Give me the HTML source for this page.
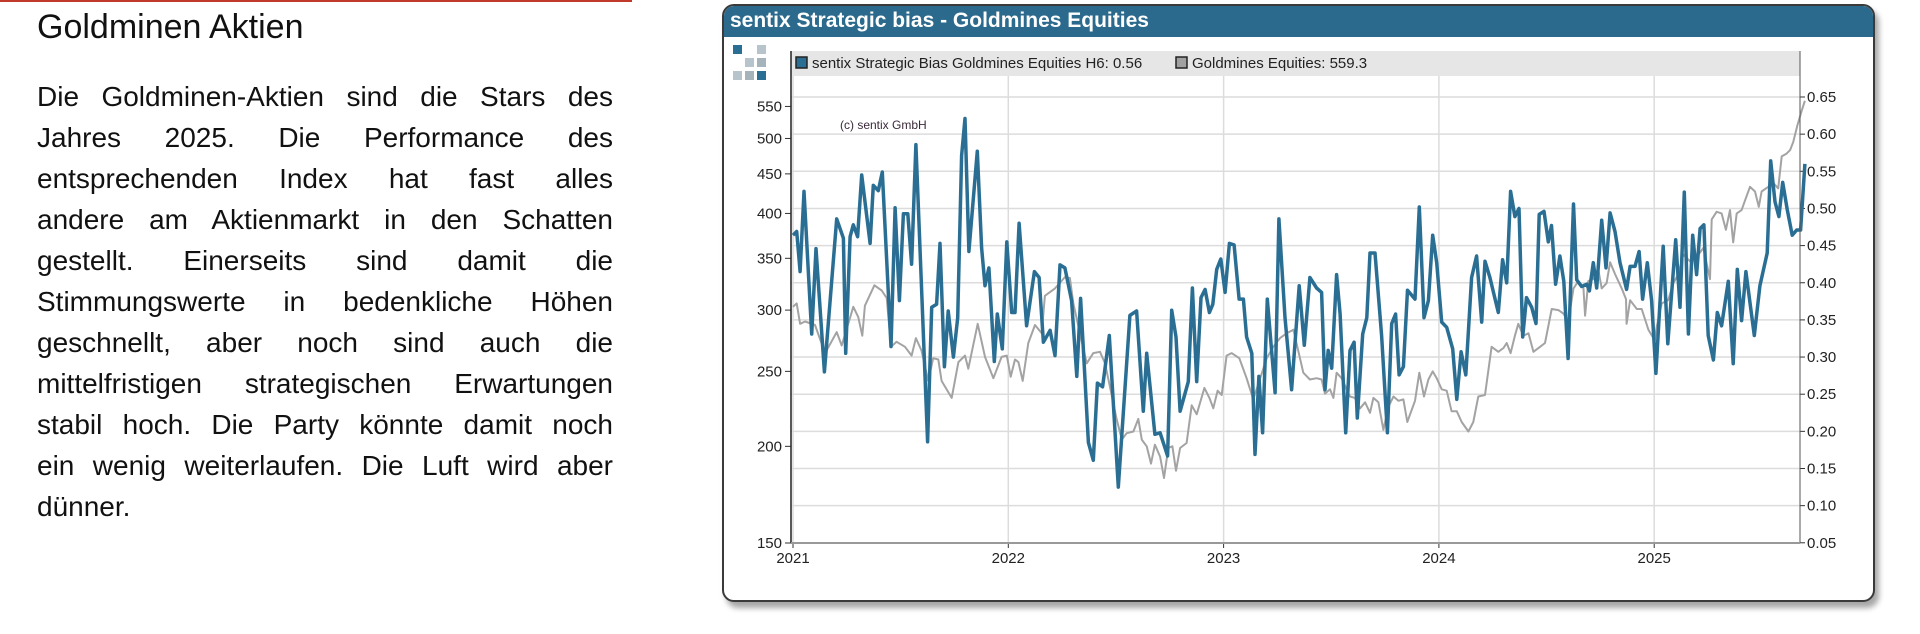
<!DOCTYPE html>
<html><head><meta charset="utf-8">
<style>
html,body{margin:0;padding:0;background:#fff;}
body{width:1920px;height:634px;position:relative;overflow:hidden;font-family:"Liberation Sans",Arial,sans-serif;}
#redline{position:absolute;left:0;top:0;width:632px;height:2px;background:#c0392b;}
#heading{position:absolute;left:37px;top:8px;font-size:34px;color:#111;font-family:"Liberation Sans",sans-serif;}
#para{position:absolute;left:37px;top:76px;width:576px;font-size:28px;line-height:41px;color:#111;}
#para div{text-align:justify;text-align-last:justify;white-space:nowrap;}
#para div.last{text-align-last:left;}
#chartbox{position:absolute;left:722px;top:4px;width:1149px;height:594px;border:2px solid #3a3a3a;border-radius:12px;box-shadow:4px 6px 6px rgba(0,0,0,0.35);background:#fff;overflow:hidden;}
#titlebar{position:absolute;left:0;top:0;width:100%;height:31px;background:#2b6a8c;}
#titletext{position:absolute;left:6px;top:3px;font-size:21px;font-weight:bold;color:#fff;}
svg{position:absolute;left:0;top:0;}
</style></head>
<body>
<div id="redline"></div>
<div id="heading">Goldminen Aktien</div>
<div id="para">
<div>Die Goldminen-Aktien sind die Stars des</div>
<div>Jahres 2025. Die Performance des</div>
<div>entsprechenden Index hat fast alles</div>
<div>andere am Aktienmarkt in den Schatten</div>
<div>gestellt. Einerseits sind damit die</div>
<div>Stimmungswerte in bedenkliche Höhen</div>
<div>geschnellt, aber noch sind auch die</div>
<div>mittelfristigen strategischen Erwartungen</div>
<div>stabil hoch. Die Party könnte damit noch</div>
<div>ein wenig weiterlaufen. Die Luft wird aber</div>
<div class="last">dünner.</div>
</div>
<div id="chartbox">
<div id="titlebar"><div id="titletext">sentix Strategic bias - Goldmines Equities</div></div>
</div>
<svg id="chart" width="1920" height="634"></svg>
<script>
const yearLabels=["2021","2022","2023","2024","2025"];
const leftTicks=[150,200,250,300,350,400,450,500,550];
const rightTicks=[0.05,0.10,0.15,0.20,0.25,0.30,0.35,0.40,0.45,0.50,0.55,0.60,0.65];
const biasDates=[0,.017,.033,.051,.087,.107,.146,.203,.234,.245,.265,.280,.300,.319,.358,.373,.396,.415,.455,.474,.494,.513,.533,.551,.571,.625,.644,.667,.683,.703,.721,.745,.765,.783,.799,.817,.856,.876,.892,.910,.935,.949,.972,.993,1.016,1.031,1.050,1.085,1.121,1.143,1.163,1.194,1.217,1.240,1.263,1.294,1.318,1.336,1.372,1.395,1.414,1.438,1.469,1.511,1.565,1.596,1.627,1.643,1.681,1.705,1.740,1.759,1.779,1.798,1.836,1.855,1.875,1.895,1.914,1.934,1.950,1.968,1.987,2.007,2.027,2.049,2.072,2.092,2.107,2.131,2.146,2.164,2.181,2.203,2.239,2.257,2.285,2.316,2.351,2.375,2.401,2.432,2.455,2.471,2.486,2.502,2.525,2.541,2.567,2.587,2.606,2.621,2.646,2.665,2.680,2.703,2.734,2.761,2.781,2.799,2.815,2.835,2.854,2.889,2.909,2.931,2.951,2.971,2.990,3.013,3.036,3.064,3.083,3.103,3.125,3.152,3.175,3.199,3.214,3.237,3.276,3.296,3.315,3.333,3.353,3.372,3.389,3.407,3.431,3.451,3.466,3.488,3.508,3.523,3.542,3.562,3.580,3.600,3.625,3.640,3.663,3.687,3.699,3.717,3.733,3.756,3.776,3.795,3.818,3.841,3.872,3.888,3.911,3.930,3.946,3.968,3.988,4.008,4.042,4.063,4.100,4.120,4.140,4.159,4.179,4.197,4.213,4.231,4.251,4.275,4.293,4.313,4.344,4.367,4.386,4.406,4.426,4.465,4.491,4.525,4.541,4.561,4.579,4.597,4.618,4.641,4.662,4.680,4.700];
const biasValues=[.464,.469,.415,.523,.331,.446,.280,.486,.460,.305,.462,.478,.462,.545,.453,.531,.524,.549,.314,.501,.376,.493,.493,.425,.586,.186,.367,.371,.453,.287,.362,.300,.353,.571,.621,.442,.577,.447,.396,.420,.294,.358,.311,.455,.360,.360,.480,.342,.415,.407,.320,.336,.302,.424,.420,.376,.274,.379,.185,.161,.265,.260,.329,.125,.356,.362,.227,.305,.196,.198,.167,.363,.327,.227,.267,.393,.267,.380,.391,.360,.371,.418,.432,.387,.453,.451,.378,.378,.327,.305,.169,.274,.198,.378,.252,.486,.353,.256,.396,.316,.407,.393,.387,.256,.309,.285,.411,.358,.198,.309,.320,.218,.331,.353,.440,.440,.329,.198,.345,.358,.276,.287,.390,.378,.502,.353,.376,.464,.427,.347,.340,.311,.243,.307,.276,.407,.436,.347,.429,.407,.360,.431,.400,.523,.489,.500,.327,.380,.367,.345,.492,.496,.455,.477,.398,.436,.402,.298,.506,.404,.395,.398,.389,.427,.393,.484,.420,.494,.469,.427,.391,.422,.422,.442,.378,.427,.376,.278,.449,.318,.458,.367,.522,.331,.464,.411,.473,.478,.329,.296,.360,.342,.402,.291,.418,.349,.415,.329,.396,.440,.564,.509,.489,.535,.498,.464,.471,.471,.560];
const goldDates=[0,.017,.033,.056,.102,.149,.203,.226,.280,.303,.322,.334,.378,.412,.435,.455,.481,.520,.551,.571,.597,.628,.651,.675,.690,.737,.768,.799,.814,.858,.892,.931,.969,.993,1.011,1.031,1.047,1.067,1.093,1.124,1.155,1.170,1.217,1.263,1.286,1.302,1.364,1.395,1.426,1.449,1.472,1.503,1.527,1.550,1.581,1.604,1.620,1.643,1.663,1.681,1.705,1.723,1.743,1.762,1.779,1.798,1.828,1.852,1.875,1.911,1.934,1.952,1.972,1.991,2.014,2.037,2.073,2.107,2.138,2.200,2.231,2.262,2.293,2.324,2.370,2.401,2.432,2.455,2.471,2.494,2.510,2.525,2.548,2.587,2.610,2.634,2.657,2.680,2.696,2.719,2.742,2.765,2.789,2.812,2.835,2.853,2.889,2.909,2.931,2.951,2.971,2.990,3.013,3.036,3.059,3.083,3.106,3.137,3.160,3.183,3.214,3.245,3.276,3.300,3.315,3.333,3.353,3.369,3.392,3.416,3.439,3.470,3.493,3.524,3.555,3.578,3.601,3.625,3.648,3.671,3.679,3.694,3.717,3.740,3.756,3.779,3.795,3.818,3.849,3.869,3.872,3.888,3.919,3.942,3.973,4.003,4.011,4.035,4.065,4.089,4.112,4.135,4.166,4.197,4.228,4.259,4.267,4.290,4.313,4.333,4.352,4.367,4.383,4.406,4.421,4.445,4.468,4.486,4.499,4.530,4.553,4.576,4.592,4.615,4.631,4.646,4.665,4.685,4.700];
const goldValues=[303,306,288,290,287,264,281,270,303,294,278,304,323,318,311,269,273,269,262,276,266,243,260,259,243,231,257,262,252,288,261,245,261,262,246,259,257,243,272,287,280,313,320,331,330,306,256,264,265,256,239,217,204,208,209,217,204,200,190,201,194,182,199,200,186,199,202,226,220,238,231,224,236,233,262,264,260,245,230,260,269,276,280,283,249,244,245,244,234,237,231,249,245,232,231,224,228,221,231,228,210,225,232,229,230,215,229,249,232,244,250,245,237,236,222,222,215,209,215,232,233,269,265,268,272,264,278,288,278,280,265,269,272,301,300,297,290,320,327,321,295,327,329,339,320,325,346,334,320,310,288,309,301,301,283,274,285,306,309,325,334,354,347,351,361,329,393,402,400,381,404,367,400,404,415,433,427,408,427,433,438,431,474,478,483,495,520,543,559.3];

const NS='http://www.w3.org/2000/svg';
const svg=document.getElementById('chart');
const X0=793,YEARW=215.3,PL=791,PR=1800,PT=51,PB=543;
function xs(t){return X0+t*YEARW;}
function yR(v){return 97+(0.65-v)*743;}
function yL(p){return 543-336*Math.log(p/150);}
function mk(tag,attrs){const e=document.createElementNS(NS,tag);for(const k in attrs)e.setAttribute(k,attrs[k]);svg.appendChild(e);return e;}

rightTicks.forEach(v=>{const y=yR(v);
 const g=mk('line',{x1:PL,x2:PR,y1:y,y2:y,stroke:'#dcdcdc','stroke-width':1.5});
 
 
 const tk=mk('line',{x1:PR,x2:PR+5,y1:y,y2:y,stroke:'#333','stroke-width':1});
 
 
 const tx=mk('text',{x:PR+7,y:y+5,'font-size':15,fill:'#222','font-family':'Liberation Sans, sans-serif'});
 tx.textContent=v.toFixed(2);
 
 
});
yearLabels.forEach((lab,i)=>{const x=xs(i);
 const g=mk('line',{x1:x,x2:x,y1:PT,y2:PB,stroke:'#dcdcdc','stroke-width':1.5});
 
 
 const tk=mk('line',{x1:x,x2:x,y1:PB,y2:PB+5,stroke:'#333','stroke-width':1});
 
 
 const tx=mk('text',{x:x,y:PB+20,'font-size':15,fill:'#222','text-anchor':'middle','font-family':'Liberation Sans, sans-serif'});
 tx.textContent=lab;
 
 
});
leftTicks.forEach(p=>{const y=yL(p);
 const tk=mk('line',{x1:PL-6,x2:PL,y1:y,y2:y,stroke:'#333','stroke-width':1});
 
 
 const tx=mk('text',{x:PL-9,y:y+5,'font-size':15,fill:'#222','text-anchor':'end','font-family':'Liberation Sans, sans-serif'});
 tx.textContent=String(p);
 
 
});
const lg=mk('rect',{x:PL,y:PT,width:PR-PL,height:25,fill:'#e6e6e6'});


const ls1=mk('rect',{x:796,y:57,width:11,height:11,fill:'#2a6f93',stroke:'#222','stroke-width':1.5});


const lt1=mk('text',{x:812,y:68,'font-size':15,fill:'#222','font-family':'Liberation Sans, sans-serif'});
lt1.textContent='sentix Strategic Bias Goldmines Equities H6: 0.56';


const ls2=mk('rect',{x:1176,y:57,width:11,height:11,fill:'#a0a0a0',stroke:'#222','stroke-width':1.5});


const lt2=mk('text',{x:1192,y:68,'font-size':15,fill:'#222','font-family':'Liberation Sans, sans-serif'});
lt2.textContent='Goldmines Equities: 559.3';


[[733,45,'#2a6f93'],[757,45,'#b8c4cc'],[745,58,'#b8c4cc'],[757,58,'#a7b3bb'],[733,71,'#b8c4cc'],[745,71,'#a7b3bb'],[757,71,'#2a6f93']].forEach(s=>{
 const r=mk('rect',{x:s[0],y:s[1],width:9,height:9,fill:s[2]});
 
 
});
const cp=mk('text',{x:840,y:129,'font-size':12,fill:'#3a2a3a','font-family':'Liberation Sans, sans-serif'});
cp.textContent='(c) sentix GmbH';


const gp=goldDates.map((t,i)=>xs(t).toFixed(1)+','+yL(goldValues[i]).toFixed(1)).join(' ');
const gl=mk('polyline',{points:gp,fill:'none',stroke:'#a3a3a3','stroke-width':2,'stroke-linejoin':'round'});


const bp=biasDates.map((t,i)=>xs(t).toFixed(1)+','+yR(biasValues[i]).toFixed(1)).join(' ');
const bl=mk('polyline',{points:bp,fill:'none',stroke:'#2a6f93','stroke-width':3.5,'stroke-linejoin':'round'});


const ax1=mk('line',{x1:PL,x2:PL,y1:PT,y2:PB,stroke:'#222','stroke-width':1.5});


const ax2=mk('line',{x1:PR,x2:PR,y1:PT,y2:PB,stroke:'#555','stroke-width':1});


const ax3=mk('line',{x1:PL,x2:PR,y1:PB,y2:PB,stroke:'#999','stroke-width':2});


</script>
</body></html>
